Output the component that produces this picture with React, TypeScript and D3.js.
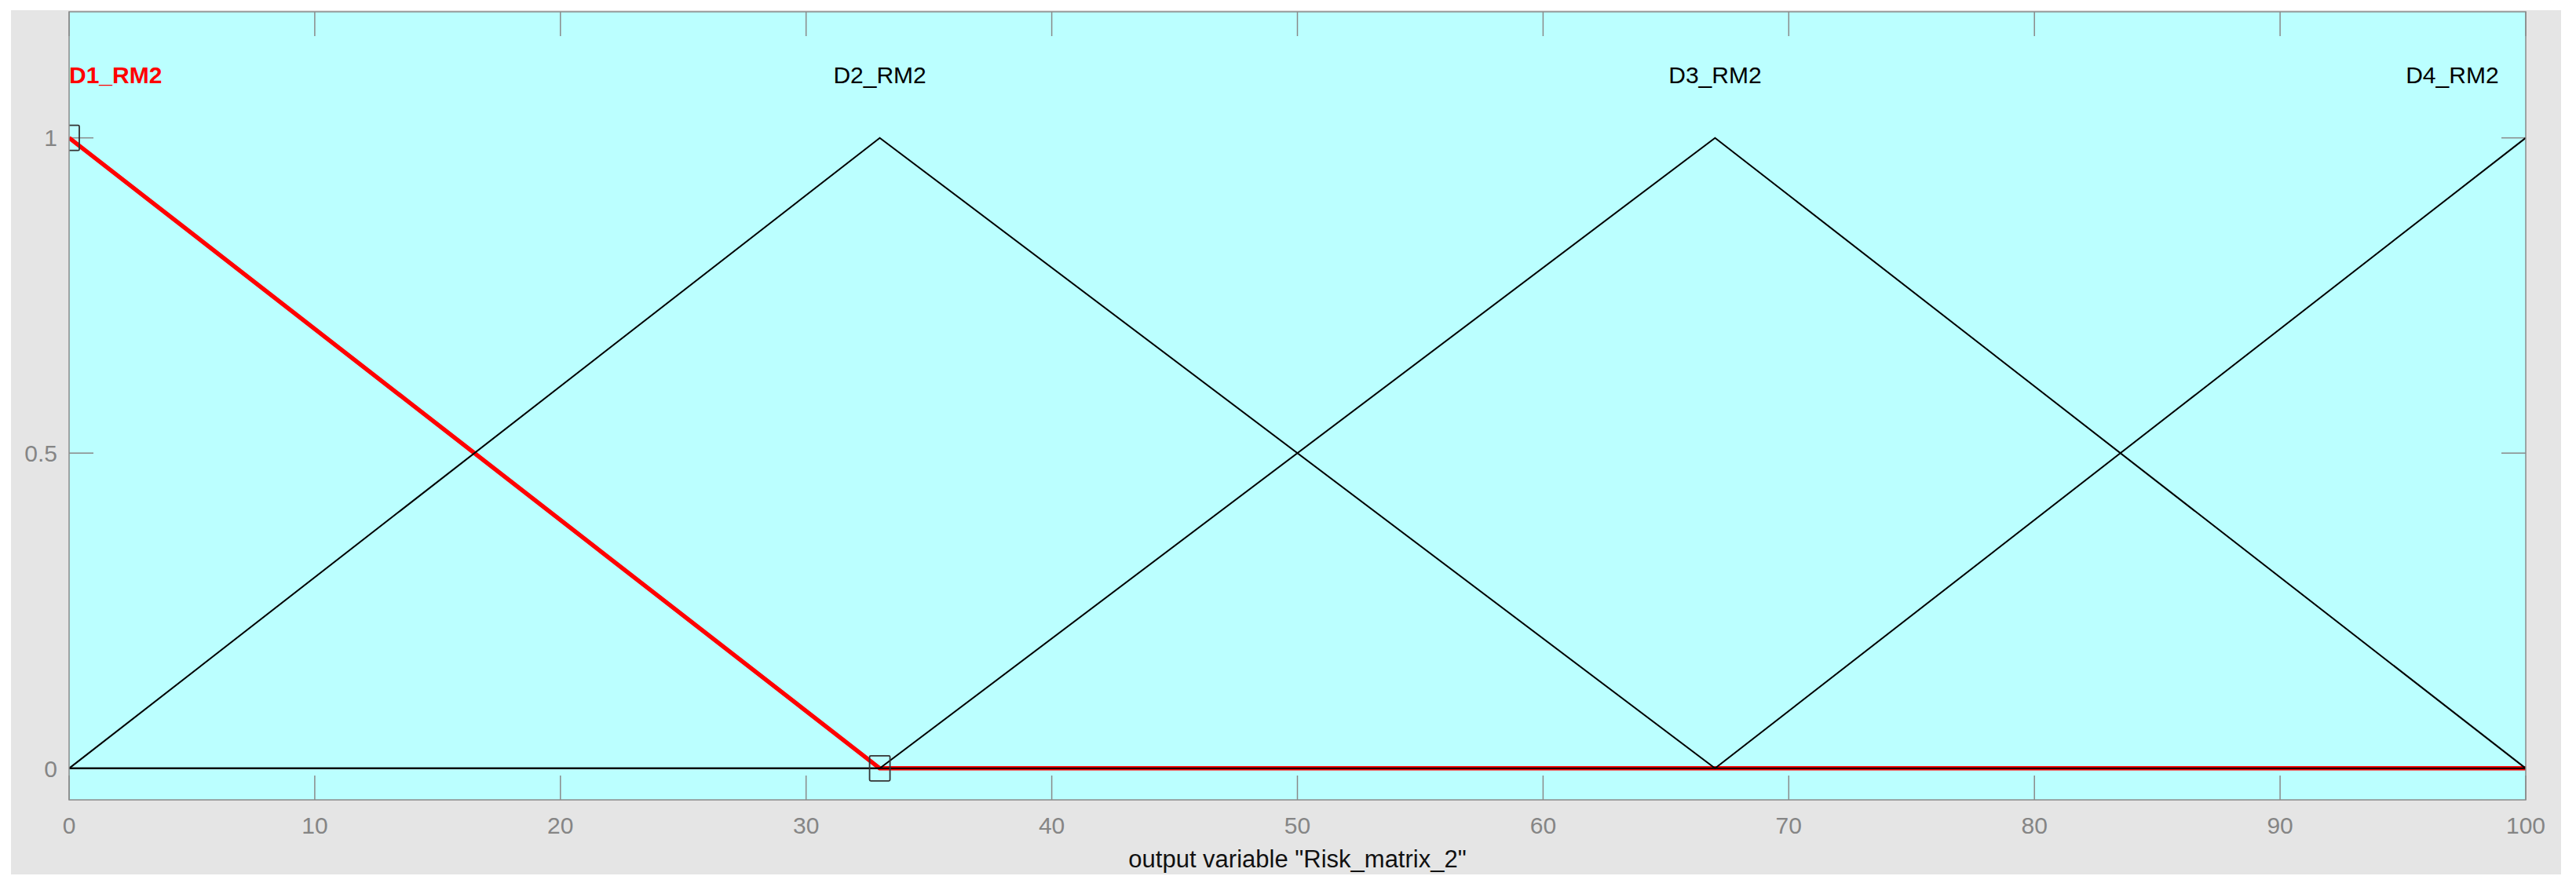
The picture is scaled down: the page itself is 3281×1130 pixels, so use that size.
import React from 'react';
import * as d3 from 'd3';

// ---- data ----
const mfNames = ['D1_RM2', 'D2_RM2', 'D3_RM2', 'D4_RM2'];
const mfX = [
  [0, 33, 100],
  [0, 33, 67, 100],
  [0, 33, 67, 100],
  [0, 67, 100],
];
const mfY = [
  [1, 0, 0],
  [0, 1, 0, 0],
  [0, 0, 1, 0],
  [0, 0, 1],
];
const selectedIndex = 0;
const labelX = [0, 33, 67, 98.9];
const labelAnchor = ['start', 'middle', 'middle', 'end'];
const labelY = 1.1;
const markerPoints = [[0, 1], [33, 0]];
const xTicks = [0, 10, 20, 30, 40, 50, 60, 70, 80, 90, 100];
const yTicks = [0, 0.5, 1];
const yTickLabels = ['0', '0.5', '1'];
const xLabel = 'output variable "Risk_matrix_2"';

const W = 3281;
const H = 1130;
const plot = { left: 88, right: 3217, top: 15, bottom: 1019 };
const FONT = '"Liberation Sans", Arial, Helvetica, sans-serif';

export default function App() {
  const x = d3.scaleLinear().domain([0, 100]).range([plot.left, plot.right]);
  const y = d3.scaleLinear().domain([-0.05, 1.2]).range([plot.bottom, plot.top]);
  const line = d3
    .line<[number, number]>()
    .x((d) => x(d[0]))
    .y((d) => y(d[1]));

  const series = mfNames.map((name, i) => ({
    name,
    pts: mfX[i].map((v, j) => [v, mfY[i][j]] as [number, number]),
  }));

  const tickLen = 31;
  const tickColor = '#8a8a8a';

  return (
    <svg
      width={W}
      height={H}
      style={{ position: 'absolute', left: 0, top: 0, display: 'block', background: '#fff' }}
      fontFamily={FONT}
    >
      <rect x={14} y={13} width={3248} height={1101} fill="#e5e5e5" />
      <defs>
        <clipPath id="plotclip">
          <rect x={plot.left} y={plot.top} width={plot.right - plot.left} height={plot.bottom - plot.top} />
        </clipPath>
      </defs>
      <rect
        x={plot.left}
        y={plot.top}
        width={plot.right - plot.left}
        height={plot.bottom - plot.top}
        fill="#bbffff"
      />
      {/* ticks */}
      {xTicks.map((t) => (
        <g key={'xt' + t}>
          <line x1={x(t)} x2={x(t)} y1={plot.bottom} y2={plot.bottom - tickLen} stroke={tickColor} strokeWidth={1.5} />
          <line x1={x(t)} x2={x(t)} y1={plot.top} y2={plot.top + tickLen} stroke={tickColor} strokeWidth={1.5} />
          <text
            x={x(t)}
            y={1062}
            textAnchor="middle"
            fontSize={30}
            fill="#858585"
          >
            {t}
          </text>
        </g>
      ))}
      {yTicks.map((t, i) => (
        <g key={'yt' + t}>
          <line x1={plot.left} x2={plot.left + tickLen} y1={y(t)} y2={y(t)} stroke={tickColor} strokeWidth={1.5} />
          <line x1={plot.right} x2={plot.right - tickLen} y1={y(t)} y2={y(t)} stroke={tickColor} strokeWidth={1.5} />
          <text x={73} y={y(t)} dy="0.36em" textAnchor="end" fontSize={30} fill="#858585">
            {yTickLabels[i]}
          </text>
        </g>
      ))}
      <g clipPath="url(#plotclip)">
        {series
          .filter((_, i) => i === selectedIndex)
          .map((s) => (
            <path key={s.name} d={line(s.pts) || ''} fill="none" stroke="#ff0000" strokeWidth={5.5} strokeLinejoin="round" />
          ))}
        {series
          .filter((_, i) => i !== selectedIndex)
          .map((s) => (
            <path key={s.name} d={line(s.pts) || ''} fill="none" stroke="#000" strokeWidth={2} strokeLinejoin="miter" />
          ))}
        {markerPoints.map((p, i) => (
          <rect
            key={'m' + i}
            x={x(p[0]) - 13}
            y={y(p[1]) - 16}
            width={26}
            height={32}
            rx={1.5}
            fill="none"
            stroke="#333"
            strokeWidth={1.8}
          />
        ))}
      </g>
      <rect
        x={plot.left}
        y={plot.top}
        width={plot.right - plot.left}
        height={plot.bottom - plot.top}
        fill="none"
        stroke="#8a8a8a"
        strokeWidth={1.5}
      />
      {mfNames.map((n, i) => (
        <text
          key={'lab' + n}
          x={x(labelX[i])}
          y={y(labelY)}
          dy="0.36em"
          textAnchor={labelAnchor[i]}
          fontSize={30}
          fontWeight={i === selectedIndex ? 'bold' : 'normal'}
          fill={i === selectedIndex ? '#ff0000' : '#000'}
        >
          {n}
        </text>
      ))}
      <text x={(plot.left + plot.right) / 2} y={1094} dy="0.36em" textAnchor="middle" fontSize={31} fill="#111">
        {xLabel}
      </text>
    </svg>
  );
}
